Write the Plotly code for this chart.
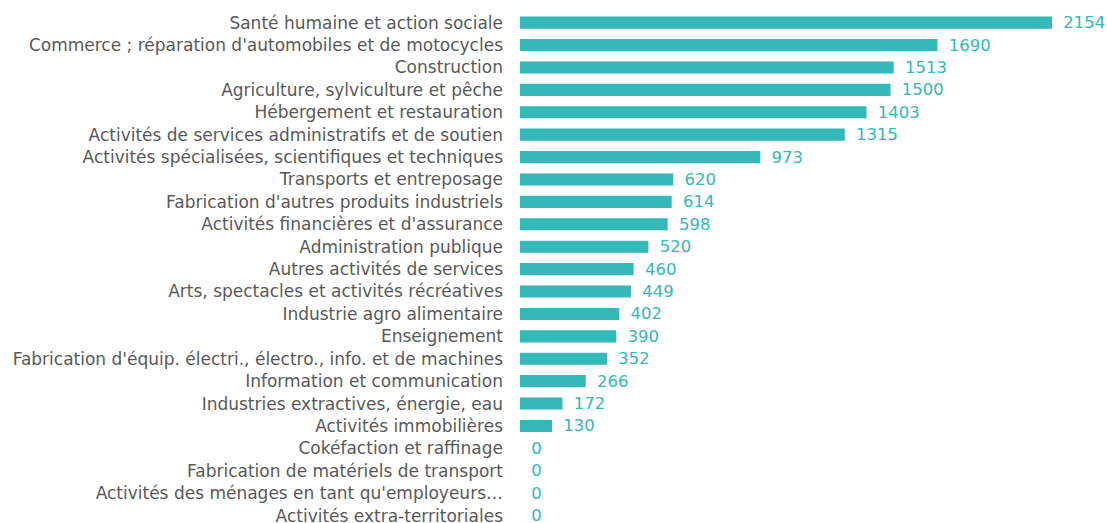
import plotly.graph_objects as go

categories = [
    "Santé humaine et action sociale",
    "Commerce ; réparation d'automobiles et de motocycles",
    "Construction",
    "Agriculture, sylviculture et pêche",
    "Hébergement et restauration",
    "Activités de services administratifs et de soutien",
    "Activités spécialisées, scientifiques et techniques",
    "Transports et entreposage",
    "Fabrication d'autres produits industriels",
    "Activités financières et d'assurance",
    "Administration publique",
    "Autres activités de services",
    "Arts, spectacles et activités récréatives",
    "Industrie agro alimentaire",
    "Enseignement",
    "Fabrication d'équip. électri., électro., info. et de machines",
    "Information et communication",
    "Industries extractives, énergie, eau",
    "Activités immobilières",
    "Cokéfaction et raffinage",
    "Fabrication de matériels de transport",
    "Activités des ménages en tant qu'employeurs…",
    "Activités extra-territoriales",
]
values = [2154, 1690, 1513, 1500, 1403, 1315, 973, 620, 614, 598, 520, 460, 449,
          402, 390, 352, 266, 172, 130, 0, 0, 0, 0]

BAR = "#34B8B8"
FONT = "DejaVu Sans"

fig = go.Figure(go.Bar(
    x=values, y=categories, orientation="h",
    marker=dict(color=BAR, line=dict(width=0)),
    text=[f"\u2002{v}" for v in values],
    textposition="outside",
    constraintext="none",
    textfont=dict(color=BAR, size=16.5, family=FONT),
    cliponaxis=False,
    width=0.54,
))

fig.update_layout(
    width=1107, height=523,
    margin=dict(l=520, r=7, t=0, b=0, autoexpand=False),
    paper_bgcolor="white", plot_bgcolor="white",
    showlegend=False,
    font=dict(family=FONT, color="#595959", size=17),
    xaxis=dict(range=[0, 2348], visible=False, showgrid=False, zeroline=False),
    yaxis=dict(categoryorder="array", categoryarray=categories,
               range=[22.33, -1.01], showgrid=False, zeroline=False,
               showline=False, ticks="", ticklabelstandoff=16, automargin=False,
               tickfont=dict(size=17, color="#595959", family=FONT)),
)

fig.write_html("out.html", config={"displayModeBar": False},
               post_script="document.body.style.margin='0';")
